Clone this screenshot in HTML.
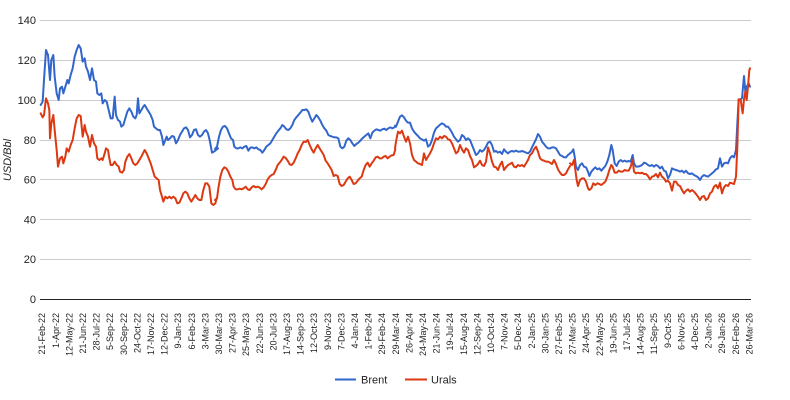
<!DOCTYPE html>
<html>
<head>
<meta charset="utf-8">
<style>
  html, body { margin: 0; padding: 0; background: #ffffff; }
  svg { display: block; font-family: "Liberation Sans", Arial, sans-serif; }
</style>
</head>
<body>
<svg width="790" height="400" viewBox="0 0 790 400" xmlns="http://www.w3.org/2000/svg">
  <rect width="790" height="400" fill="#ffffff"/>

  <!-- gridlines -->
  <g stroke="#cccccc" stroke-width="1" shape-rendering="crispEdges">
    <line x1="40" y1="20.5" x2="751" y2="20.5"/>
    <line x1="40" y1="60.5" x2="751" y2="60.5"/>
    <line x1="40" y1="100.5" x2="751" y2="100.5"/>
    <line x1="40" y1="140.5" x2="751" y2="140.5"/>
    <line x1="40" y1="179.5" x2="751" y2="179.5"/>
    <line x1="40" y1="219.5" x2="751" y2="219.5"/>
    <line x1="40" y1="259.5" x2="751" y2="259.5"/>
  </g>
  <line x1="40" y1="299.5" x2="751" y2="299.5" stroke="#222222" stroke-width="1" shape-rendering="crispEdges"/>

  <!-- y axis labels -->
  <g font-size="11" fill="#222222" text-anchor="end">
    <text x="36" y="24">140</text>
    <text x="36" y="64">120</text>
    <text x="36" y="104">100</text>
    <text x="36" y="144">80</text>
    <text x="36" y="183.5">60</text>
    <text x="36" y="223.5">40</text>
    <text x="36" y="263">20</text>
    <text x="36" y="303">0</text>
  </g>
  <text transform="translate(11,160) rotate(-90)" font-size="11" font-style="italic" fill="#222222" text-anchor="middle">USD/Bbl</text>

  <!-- Brent -->
  <g fill="none" stroke="#3366cc" stroke-width="2" stroke-linejoin="round" stroke-linecap="round">
    <polyline vector-effect="non-scaling-stroke" transform="translate(38,30) scale(0.33333)" points="8,225 14,215 18,150 24,60 30,75 36,150 40,90 46,75 50,140 56,190 62,210 66,175 72,170 76,190 82,170 88,150 92,160 98,135 104,115 110,80 116,60 122,45 128,55 134,95 140,85 144,110 150,125 156,150 162,115 168,150 174,155 178,190 184,195 190,190 194,220 200,210 206,215 212,240 218,265 224,265 230,200 234,255 240,270 246,275 250,290 256,285 262,265 268,245 274,235 280,245 286,260 292,265 296,255 300,205 304,250 310,240 316,230 320,225 326,235 332,245 338,255 344,270 348,290 354,295 360,300 366,300 372,320 376,345 382,330 386,320 390,330 396,325 402,318 408,320 414,340 420,330 426,315 432,305 438,295 444,292 450,300 456,322 462,315 468,300 474,298 480,315 486,320 492,315 498,305 504,300 510,310 516,335 522,368 528,365 534,360 540,355"/>
    <polyline vector-effect="non-scaling-stroke" transform="translate(215,30) scale(0.33333)" points="0,357 6,350 12,320 18,300 24,290 30,288 36,295 42,310 48,325 54,330 58,350 64,355 70,355 76,352 82,355 88,350 94,348 100,362 106,353 112,352 118,355 124,352 130,358 136,360 142,368 148,360 154,350 160,345 166,340 172,330 178,320 184,310 190,302 196,295 202,285 208,290 214,298 220,300 226,295 232,285 238,270 244,262 250,255 256,248 262,240 268,240 274,238 280,245 286,262 292,275 298,265 304,255 310,262 316,272 322,285 328,295 334,302 340,315 346,318 352,320 358,322 364,322 370,325 376,350 382,355 388,350 394,332 400,325 406,330 412,340 418,348 424,342 430,338 436,332 442,325 448,320 454,315 460,310 466,325 472,308 478,302 484,298 490,300 496,302 502,298 508,296 514,300 520,295 526,292 532,295 538,292 541,290"/>
    <polyline vector-effect="non-scaling-stroke" transform="translate(392,90) scale(0.33333)" points="9,107 12,110 18,95 24,80 30,76 36,82 42,92 48,98 54,98 60,115 66,125 72,132 78,138 84,145 90,148 96,152 102,148 108,170 114,165 120,150 126,128 132,115 138,110 144,104 150,100 156,103 162,110 168,110 174,118 180,128 186,140 192,148 198,155 204,150 210,135 216,140 222,150 228,145 234,150 240,165 246,180 252,195 258,190 264,180 270,185 276,180 282,170 288,158 294,155 300,165 306,185 312,183 318,188 324,185 330,192 336,178 342,185 348,190 354,185 360,183 366,185 372,182 378,185 384,185 390,183 396,185 402,188 408,190 414,185 420,172 426,160 432,148 438,132 444,140 450,155 456,162 462,170 468,175 474,175 480,172 486,172 492,175 498,185 504,195 510,198 516,202 522,202 528,195 534,190"/>
    <polyline vector-effect="non-scaling-stroke" transform="translate(570,50) scale(0.33333)" points="0,310 6,305 10,298 14,320 18,350 24,360 30,345 36,340 42,350 48,352 54,365 58,378 64,365 70,358 76,352 82,358 88,355 94,362 100,355 106,348 112,335 118,315 124,285 128,300 134,340 140,348 146,335 152,330 158,335 164,332 170,335 176,333 182,335 188,315 192,340 198,350 204,350 210,348 216,345 222,338 228,340 234,345 240,348 246,345 252,350 258,345 264,348 270,355 276,350 282,362 288,365 294,385 300,375 306,355 312,358 318,360 324,362 330,365 336,362 342,368 348,362 354,370 360,372 366,370 372,375 378,378 384,382 390,390 396,380 402,375 408,378 414,380 420,375 426,370 432,365 438,358 444,355 450,325 456,350 462,340 468,338 474,340 480,325 486,318 492,322 498,300 502,220 506,148 510,148 516,145 522,78 526,125 530,110 536,100 540,110"/>
  </g>

  <!-- Urals -->
  <g fill="none" stroke="#dc3912" stroke-width="2" stroke-linejoin="round" stroke-linecap="round">
    <polyline vector-effect="non-scaling-stroke" transform="translate(38,30) scale(0.33333)" points="8,250 14,262 18,255 24,205 30,220 34,240 36,325 40,280 46,255 50,300 56,360 60,410 66,385 72,380 76,400 82,380 86,355 92,365 98,345 104,330 110,295 116,265 122,255 128,258 134,320 140,285 144,305 150,320 156,350 162,315 168,340 174,350 178,385 184,390 190,385 194,390 200,370 204,355 210,360 214,385 218,405 224,405 230,395 236,405 242,410 246,425 252,428 258,420 262,395 268,380 274,372 280,385 286,400 292,405 298,400 304,390 310,380 316,368 320,360 326,370 332,385 338,400 344,420 350,440 356,445 362,450 366,480 372,500 376,515 382,500 388,505 394,500 400,505 406,500 412,505 418,520 424,518 430,505 436,490 442,485 448,490 454,505 460,515 466,505 472,495 478,505 484,510 490,510 496,480 502,460 508,460 514,470 520,520 526,525 532,520 536,505"/>
    <polyline vector-effect="non-scaling-stroke" transform="translate(215,30) scale(0.33333)" points="0,510 6,505 10,475 16,440 22,420 28,412 34,415 40,425 46,440 52,450 56,470 62,478 68,478 74,476 80,478 86,475 92,470 98,478 104,480 110,472 116,468 122,472 128,470 134,473 140,478 146,472 152,462 158,448 164,440 170,435 176,432 182,420 188,405 194,398 200,390 206,380 212,384 218,392 224,403 230,405 236,398 242,385 248,370 254,360 260,345 266,335 272,336 278,330 284,345 290,358 296,368 302,355 308,345 314,355 320,365 326,375 332,392 338,400 344,410 350,420 356,438 362,435 368,438 374,462 380,468 386,465 392,455 398,445 404,440 410,450 416,462 422,460 428,452 434,445 440,440 446,420 452,405 458,398 464,410 470,400 476,392 482,382 488,380 494,385 500,385 506,380 512,378 518,385 524,380 530,376 536,375 541,358"/>
    <polyline vector-effect="non-scaling-stroke" transform="translate(392,90) scale(0.33333)" points="9,175 12,155 18,125 24,130 30,122 36,140 42,155 48,140 54,160 60,195 66,210 72,215 78,220 84,222 90,225 96,190 102,210 108,200 114,190 120,178 126,160 132,145 138,148 144,140 150,145 156,138 162,140 168,148 174,150 180,160 186,175 192,190 198,185 204,165 210,178 216,188 222,175 228,180 234,198 240,210 246,232 252,228 258,222 264,212 270,225 276,228 282,215 288,172 294,190 300,215 306,230 312,232 318,240 324,225 330,215 336,240 342,232 348,225 354,222 360,218 366,230 372,232 378,225 384,228 390,225 396,230 402,220 408,210 414,195 420,190 426,178 432,170 438,185 444,205 450,210 456,212 462,215 468,215 474,218 480,222 486,210 492,222 498,238 504,248 510,255 516,255 522,250 528,238 534,228"/>
    <polyline vector-effect="non-scaling-stroke" transform="translate(570,50) scale(0.33333)" points="0,340 6,345 12,330 16,360 20,390 24,408 30,390 36,385 42,385 48,395 54,415 58,420 64,415 70,400 76,405 82,400 88,402 94,405 100,400 106,395 112,380 118,360 124,345 128,350 134,368 140,368 146,362 152,365 158,365 164,360 170,362 176,362 182,350 188,330 192,365 198,370 204,368 210,370 216,368 222,372 228,372 234,378 240,388 246,380 252,378 258,372 264,382 270,368 276,380 282,385 288,395 294,392 300,400 306,422 312,395 318,395 324,405 330,408 336,420 342,430 348,422 354,418 360,425 366,420 372,425 378,432 384,440 390,450 396,440 402,438 408,450 414,445 420,430 426,425 432,410 438,405 444,415 450,398 456,430 462,412 468,405 474,408 480,398 486,400 492,402 498,380 502,290 506,148 512,150 518,190 522,148 526,125 530,150 534,110 538,60 540,55"/>
  </g>

  <!-- x axis labels -->
  <g font-size="9" fill="#222222" text-anchor="end">
    <text transform="translate(45.2,313) rotate(-90)">21-Feb-22</text>
    <text transform="translate(58.8,313) rotate(-90)">1-Apr-22</text>
    <text transform="translate(72.4,313) rotate(-90)">12-May-22</text>
    <text transform="translate(86.0,313) rotate(-90)">21-Jun-22</text>
    <text transform="translate(99.6,313) rotate(-90)">28-Jul-22</text>
    <text transform="translate(113.2,313) rotate(-90)">5-Sep-22</text>
    <text transform="translate(126.8,313) rotate(-90)">30-Sep-22</text>
    <text transform="translate(140.4,313) rotate(-90)">24-Oct-22</text>
    <text transform="translate(154.0,313) rotate(-90)">17-Nov-22</text>
    <text transform="translate(167.6,313) rotate(-90)">12-Dec-22</text>
    <text transform="translate(181.2,313) rotate(-90)">9-Jan-23</text>
    <text transform="translate(194.8,313) rotate(-90)">6-Feb-23</text>
    <text transform="translate(208.4,313) rotate(-90)">3-Mar-23</text>
    <text transform="translate(222.0,313) rotate(-90)">30-Mar-23</text>
    <text transform="translate(235.6,313) rotate(-90)">27-Apr-23</text>
    <text transform="translate(249.2,313) rotate(-90)">25-May-23</text>
    <text transform="translate(262.8,313) rotate(-90)">22-Jun-23</text>
    <text transform="translate(276.4,313) rotate(-90)">20-Jul-23</text>
    <text transform="translate(290.0,313) rotate(-90)">17-Aug-23</text>
    <text transform="translate(303.6,313) rotate(-90)">14-Sep-23</text>
    <text transform="translate(317.2,313) rotate(-90)">12-Oct-23</text>
    <text transform="translate(330.8,313) rotate(-90)">9-Nov-23</text>
    <text transform="translate(344.4,313) rotate(-90)">7-Dec-23</text>
    <text transform="translate(358.0,313) rotate(-90)">4-Jan-24</text>
    <text transform="translate(371.6,313) rotate(-90)">1-Feb-24</text>
    <text transform="translate(385.2,313) rotate(-90)">29-Feb-24</text>
    <text transform="translate(398.8,313) rotate(-90)">29-Mar-24</text>
    <text transform="translate(412.4,313) rotate(-90)">26-Apr-24</text>
    <text transform="translate(426.0,313) rotate(-90)">24-May-24</text>
    <text transform="translate(439.6,313) rotate(-90)">21-Jun-24</text>
    <text transform="translate(453.2,313) rotate(-90)">19-Jul-24</text>
    <text transform="translate(466.8,313) rotate(-90)">15-Aug-24</text>
    <text transform="translate(480.4,313) rotate(-90)">12-Sep-24</text>
    <text transform="translate(494.0,313) rotate(-90)">10-Oct-24</text>
    <text transform="translate(507.6,313) rotate(-90)">7-Nov-24</text>
    <text transform="translate(521.2,313) rotate(-90)">5-Dec-24</text>
    <text transform="translate(534.8,313) rotate(-90)">2-Jan-25</text>
    <text transform="translate(548.4,313) rotate(-90)">30-Jan-25</text>
    <text transform="translate(562.0,313) rotate(-90)">27-Feb-25</text>
    <text transform="translate(575.6,313) rotate(-90)">27-Mar-25</text>
    <text transform="translate(589.2,313) rotate(-90)">24-Apr-25</text>
    <text transform="translate(602.8,313) rotate(-90)">22-May-25</text>
    <text transform="translate(616.4,313) rotate(-90)">19-Jun-25</text>
    <text transform="translate(630.0,313) rotate(-90)">17-Jul-25</text>
    <text transform="translate(643.6,313) rotate(-90)">14-Aug-25</text>
    <text transform="translate(657.2,313) rotate(-90)">11-Sep-25</text>
    <text transform="translate(670.8,313) rotate(-90)">9-Oct-25</text>
    <text transform="translate(684.4,313) rotate(-90)">6-Nov-25</text>
    <text transform="translate(698.0,313) rotate(-90)">4-Dec-25</text>
    <text transform="translate(711.6,313) rotate(-90)">2-Jan-26</text>
    <text transform="translate(725.2,313) rotate(-90)">29-Jan-26</text>
    <text transform="translate(738.8,313) rotate(-90)">26-Feb-26</text>
    <text transform="translate(752.4,313) rotate(-90)">26-Mar-26</text>
  </g>

  <!-- legend -->
  <line x1="335" y1="379.5" x2="356" y2="379.5" stroke="#3366cc" stroke-width="2"/>
  <text x="361" y="383.5" font-size="11" fill="#222222">Brent</text>
  <line x1="405" y1="379.5" x2="427" y2="379.5" stroke="#dc3912" stroke-width="2"/>
  <text x="431" y="383.5" font-size="11" fill="#222222">Urals</text>
</svg>
</body>
</html>
